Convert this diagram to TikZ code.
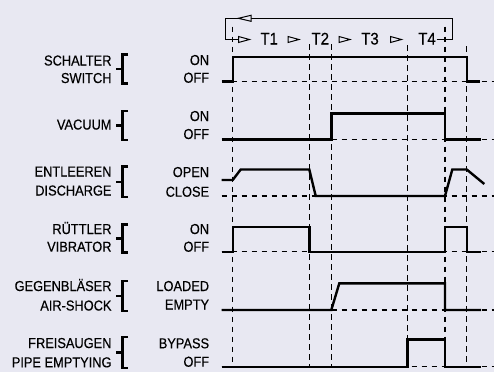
\documentclass[tikz,border=0pt]{standalone}
\usepackage{fontspec}
\setmainfont{Liberation Sans}[FakeStretch=0.89,FakeBold=0.35]
\definecolor{bgc}{RGB}{232,232,242}
\begin{document}
\begin{tikzpicture}[x=1pt,y=-1pt,
  sig/.style={line width=2.4pt,line join=miter},
  grid/.style={line width=1.3pt,dash pattern=on 5.5pt off 4.5pt},
  thin/.style={line width=1pt},
  lab/.style={inner sep=0pt,anchor=base east,font=\fontsize{14.4}{16}\selectfont},
  tlab/.style={inner sep=0pt,anchor=base,font=\fontsize{16.8}{18}\selectfont},
  brace/.style={line width=2.1pt}]
\fill[bgc] (0,0) rectangle (494,372);
\useasboundingbox (0,0) rectangle (494,372);
% vertical dashed lines
\foreach \x/\t in {232.7/26.7,309.3/44,331.3/44,407.5/45,445/26.7,466.7/46}
  \draw[grid] (\x,\t) -- (\x,367);
% dashed baselines
\foreach \y in {81.3,139.3,196,251.7,310,366.7}
  \draw[grid] (221.7,\y) -- (494,\y);
% feedback loop
\coordinate (l1) at (436.7,39.8);
\coordinate (l2) at (452.3,39.8);
\coordinate (l3) at (452.3,18.3);
\coordinate (l4) at (225.7,18.3);
\coordinate (l5) at (225.7,39.3);
\coordinate (l6) at (238.5,39.3);
\draw[thin] (l1) -- (l2) -- (l3) -- (l4) -- (l5) -- (l6);
\draw[thin,fill=bgc] (251,15.3) -- (238.3,18.3) -- (251,21.3) -- cycle;
\foreach \tp in {249.5,299,350,401.5}
  \draw[thin,fill=bgc] (\tp-11,36.5) -- (\tp,39.5) -- (\tp-11,42.5) -- cycle;
\node[tlab] (t1) at (269.2,44.5) {T1};
\node[tlab] (t2) at (320.3,44.5) {T2};
\node[tlab] (t3) at (370,44.5) {T3};
\node[tlab] (t4) at (427,44.5) {T4};
% signals
\draw[sig] (221.7,81.3) -- (232.7,81.3) -- (232.7,56.7) -- (466.7,56.7) -- (466.7,81.3) -- (480,81.3);
\draw[sig] (221.7,139.3) -- (331.3,139.3) -- (331.3,113.3) -- (445,113.3) -- (445,139.3) -- (481,139.3);
\draw[sig] (221.7,180) -- (232.7,180) -- (240.7,169.5) -- (309.3,169.5) -- (315.7,196) -- (445,196) -- (452.3,169.5) -- (466.7,169.5) -- (484.3,184);
\draw[sig] (221.7,251.7) -- (232.7,251.7) -- (232.7,226.7) -- (309.3,226.7) -- (309.3,251.7) -- (445,251.7) -- (445,226.7) -- (466.7,226.7) -- (466.7,251.7) -- (481,251.7);
\draw[sig] (221.7,310) -- (331.3,310) -- (339.3,283.3) -- (445,283.3) -- (445,310) -- (481,310);
\draw[sig] (221.7,366.7) -- (407.5,366.7) -- (407.5,339.3) -- (445,339.3) -- (445,366.7) -- (481,366.7);
% braces
\foreach \tp/\bt in {54.5/83.5,111/140,166.5/197,224.5/252.5,281/311,337/368}{
  \draw[brace] (128,\tp) -- (122.5,\tp) -- (122.5,\bt) -- (128,\bt);
  \draw[brace] (116,{(\tp+\bt)/2}) -- (122.5,{(\tp+\bt)/2});
}
% left labels
\node[lab] (n1a) at (111.7,65.5) {SCHALTER};
\node[lab] (n1b) at (111.7,83) {SWITCH};
\node[lab] (n2) at (111.7,129.5) {VACUUM};
\node[lab] (n3a) at (111.7,176.5) {ENTLEEREN};
\node[lab] (n3b) at (111.7,195.5) {DISCHARGE};
\node[lab] (n4a) at (111.7,234) {RÜTTLER};
\node[lab] (n4b) at (111.7,251.7) {VIBRATOR};
\node[lab] (n5a) at (111.7,291) {GEGENBLÄSER};
\node[lab] (n5b) at (111.7,310.5) {AIR-SHOCK};
\node[lab] (n6a) at (111.7,348) {FREISAUGEN};
\node[lab] (n6b) at (111.7,367.3) {PIPE EMPTYING};
% state labels
\node[lab] (s1a) at (209.3,65) {ON};
\node[lab] (s1b) at (209.3,82.7) {OFF};
\node[lab] (s2a) at (209.3,121) {ON};
\node[lab] (s2b) at (209.3,139) {OFF};
\node[lab] (s3a) at (209.3,177) {OPEN};
\node[lab] (s3b) at (209.3,196.7) {CLOSE};
\node[lab] (s4a) at (209.3,234) {ON};
\node[lab] (s4b) at (209.3,251.7) {OFF};
\node[lab] (s5a) at (209.3,291) {LOADED};
\node[lab] (s5b) at (209.3,309.5) {EMPTY};
\node[lab] (s6a) at (209.3,348.3) {BYPASS};
\node[lab] (s6b) at (209.3,366.7) {OFF};
\end{tikzpicture}
\end{document}
